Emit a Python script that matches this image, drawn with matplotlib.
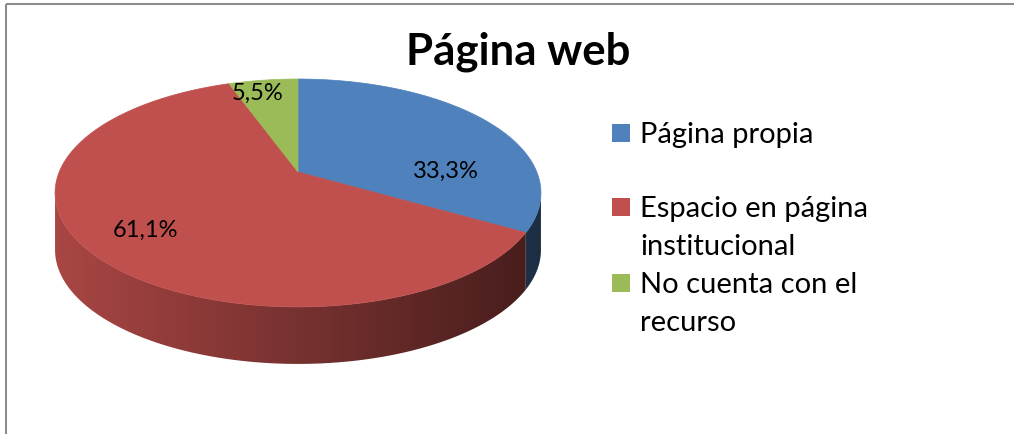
import numpy as np
import matplotlib
matplotlib.use("Agg")
import matplotlib.pyplot as plt
from matplotlib.patches import Polygon, Rectangle

# ---- data ----
title = "Página web"
categories = ["Página propia", "Espacio en página\ninstitucional", "No cuenta con el\nrecurso"]
values = [33.3, 61.1, 5.5]
value_labels = ["33,3%", "61,1%", "5,5%"]
colors = ["#4F81BD", "#C0504D", "#9BBB59"]

# ---- layout (pixel space) ----
W, H = 1014, 435
CX, CY = 298, 173      # pie centre on screen
A, B, K = 238.8, 110.1, 0.184   # perspective ellipse parameters
DEPTH = 57
label_pos = [(445.5, 178), (146, 237), (258, 100)]   # centre x, baseline y
legend_base = [143, 217, 293]
LINE_PITCH = 38
FONT = "Lato"

fig = plt.figure(figsize=(W / 100, H / 100), dpi=100)
ax = fig.add_axes([0, 0, 1, 1])
ax.set_xlim(0, W)
ax.set_ylim(H, 0)
ax.axis("off")


def proj(theta_deg, r=1.0, dy=0.0):
    t = np.radians(theta_deg)
    u = r * np.sin(t)
    v = -r * np.cos(t)
    d = 1 - K * v
    return CX + A * u / d, CY + B * v / d + dy


total = sum(values)
fracs = [v / total for v in values]
starts = np.cumsum([0] + fracs[:-1]) * 360
ends = np.cumsum(fracs) * 360

# visible front side between silhouette angles
th_r = 90 + np.degrees(np.arcsin(K))
th_l = 270 - np.degrees(np.arcsin(K))
xl, _ = proj(th_l)
xr, _ = proj(th_r)

grad_x = np.linspace(0, 1, 400)
shade_f = 0.88 - 0.52 * grad_x
for s, e, c in zip(starts, ends, colors):
    a0, a1 = max(s, th_r), min(e, th_l)
    if a1 <= a0:
        continue
    ths = np.linspace(a0, a1, 200)
    xs, ys = proj(ths)
    pts = list(zip(xs, ys)) + list(zip(xs[::-1], ys[::-1] + DEPTH))
    poly = Polygon(pts, closed=True, facecolor="none", edgecolor="none")
    ax.add_patch(poly)
    rgb = np.array(matplotlib.colors.to_rgb(c))
    img = np.clip(shade_f[None, :, None] * rgb[None, None, :], 0, 1)
    im = ax.imshow(img, extent=(xl, xr, CY + B / (1 - K) + DEPTH + 2, CY - B),
                   aspect="auto", interpolation="bilinear", zorder=1)
    im.set_clip_path(poly)

# top faces
for s, e, c in zip(starts, ends, colors):
    ths = np.linspace(s, e, max(int((e - s) * 2), 4))
    xs, ys = proj(ths)
    pts = [(CX, CY)] + list(zip(xs, ys))
    ax.add_patch(Polygon(pts, closed=True, facecolor=c, edgecolor=c,
                         linewidth=0.5, zorder=2))

# data labels
for (x, y), lab in zip(label_pos, value_labels):
    ax.text(x, y, lab, ha="center", va="baseline", fontsize=17, family=FONT,
            color="black", zorder=3)

# title
ax.text(518, 65, title, ha="center", va="baseline", fontsize=31.5, fontweight="bold",
        family=FONT, color="black")

# legend
for yb, cat, c in zip(legend_base, categories, colors):
    ax.add_patch(Rectangle((612, yb - 18), 18, 18, facecolor=c, edgecolor="none"))
    for i, line in enumerate(cat.split("\n")):
        ax.text(640, yb + i * LINE_PITCH, line, ha="left", va="baseline", fontsize=21,
                family=FONT, color="black")

# chart frame
ax.add_patch(Rectangle((6, 5), W + 20, H + 20, facecolor="none", edgecolor="#8c8c8c",
                       linewidth=1.5))

fig.savefig("out.png", dpi=100)
